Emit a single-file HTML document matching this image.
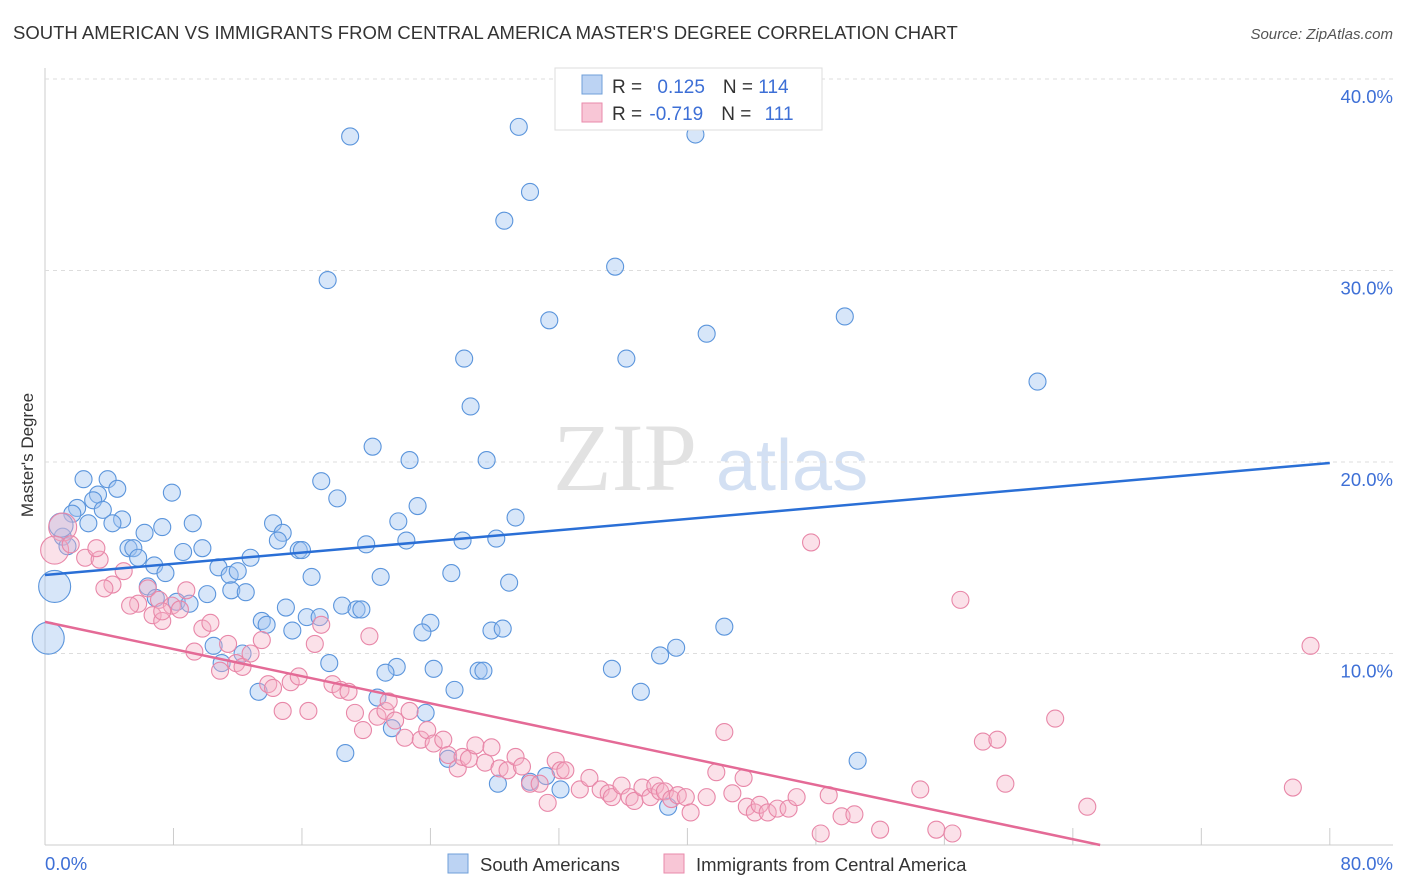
<!DOCTYPE html>
<html><head><meta charset="utf-8"><style>
body{margin:0;background:#fff;font-family:"Liberation Sans",sans-serif;}
svg{display:block}
</style></head><body>
<svg id="c" width="1406" height="892">
<text x="13" y="39" font-size="18.5" fill="#333">SOUTH AMERICAN VS IMMIGRANTS FROM CENTRAL AMERICA MASTER'S DEGREE CORRELATION CHART</text>
<text x="1393" y="39" font-size="15" fill="#555" font-style="italic" text-anchor="end">Source: ZipAtlas.com</text>
<text x="33" y="455" font-size="17" fill="#333" transform="rotate(-90 33 455)" text-anchor="middle">Master's Degree</text>
<g><text x="553" y="490" font-size="96" fill="#e2e2e2" font-family="Liberation Serif">ZIP</text><text x="716" y="490" font-size="72" fill="#d3e0f3">atlas</text></g>
<g id="grid"></g><g id="pts"></g><g id="lines"></g>
<g>
<rect x="555" y="68" width="267" height="62" fill="#fff" stroke="#ddd"/>
<rect x="582" y="75" width="20" height="19" fill="#bcd3f3" stroke="#6f9fd8"/>
<rect x="582" y="103" width="20" height="19" fill="#f8c6d6" stroke="#e98aab"/>
<text x="612" y="93" font-size="19" fill="#333">R = <tspan fill="#3d6fd6" dx="10">0.125</tspan><tspan dx="18" fill="#333">N = </tspan><tspan fill="#3d6fd6">114</tspan></text>
<text x="612" y="120" font-size="19" fill="#333">R = <tspan fill="#3d6fd6" dx="2">-0.719</tspan><tspan dx="18" fill="#333">N = </tspan><tspan fill="#3d6fd6" dx="8">111</tspan></text>
</g>
<g>
<rect x="448" y="854" width="20" height="19" fill="#bcd3f3" stroke="#6f9fd8"/>
<text x="480" y="871" font-size="18.5" fill="#333">South Americans</text>
<rect x="664" y="854" width="20" height="19" fill="#f8c6d6" stroke="#e98aab"/>
<text x="696" y="871" font-size="18.5" fill="#333">Immigrants from Central America</text>
</g>
</svg>
<script>
const blueX=[19.0,29.5,40.5,30.2,28.6,35.5,17.6,31.4,41.2,49.8,26.1,36.2,61.8,26.5,20.4,22.7,27.5,2.4,3.9,4.5,7.9,17.2,18.2,3.3,3.0,2.0,1.7,3.6,23.2,4.8,4.2,2.7,7.3,9.2,6.2,14.2,14.8,22.0,29.3,14.5,1.1,1.4,5.2,5.5,15.8,16.0,20.0,22.5,26.0,28.1,8.6,9.8,5.8,12.8,6.8,10.8,11.5,12.0,7.5,16.6,20.9,25.3,28.9,6.4,11.6,12.5,10.1,6.9,8.2,9.0,15.0,18.5,19.4,19.7,16.3,17.1,13.5,13.8,24.0,15.4,23.5,27.8,28.5,42.3,39.3,38.3,10.5,12.3,11.0,17.7,21.9,21.2,24.2,27.0,27.3,35.3,37.1,25.5,13.3,20.7,23.7,21.6,18.7,25.1,50.6,31.2,28.2,30.2,32.1,38.8,0.6,0.2,1.0];
const blueY=[37.0,37.5,37.1,34.1,32.6,30.2,29.5,27.4,26.7,27.6,25.4,25.4,24.2,22.9,20.8,20.1,20.1,19.1,19.1,18.6,18.4,19.0,18.1,18.3,18.0,17.6,17.3,17.5,17.7,17.0,16.8,16.8,16.6,16.8,16.3,16.8,16.3,16.9,17.1,15.9,16.1,15.6,15.5,15.5,15.4,15.4,15.7,15.9,15.9,16.0,15.3,15.5,15.0,15.0,14.6,14.5,14.1,14.3,14.2,14.0,14.0,14.2,13.7,13.5,13.3,13.2,13.1,12.9,12.7,12.6,12.4,12.5,12.3,12.3,11.9,11.9,11.7,11.5,11.6,11.2,11.1,11.2,11.3,11.4,10.3,9.9,10.4,10.0,9.5,9.5,9.3,9.0,9.2,9.1,9.1,9.2,8.0,8.1,8.0,7.7,6.9,6.1,4.8,4.5,4.4,3.6,3.2,3.3,2.9,2.0,13.5,10.8,16.7];
const blueR=blueX.map((v,i)=>i>=blueX.length-3?(i==blueX.length-1?12:16):8.5);
const pinkX=[1.1,0.6,1.6,2.5,3.4,3.2,4.2,3.7,4.9,5.8,6.4,7.1,6.7,7.3,7.9,8.4,8.8,7.3,5.3,9.8,10.3,9.3,10.9,11.4,11.9,12.3,12.8,13.5,13.9,14.2,14.8,15.3,15.8,16.4,16.8,17.2,17.9,18.4,18.9,19.3,19.8,20.2,20.7,21.2,21.4,21.8,22.4,22.7,23.4,23.8,24.2,24.8,25.1,25.7,26.0,26.4,26.8,27.4,27.8,28.3,28.8,29.3,29.7,30.2,30.8,31.3,31.8,32.1,32.4,33.3,33.9,34.6,35.1,35.3,35.9,36.4,36.7,37.2,37.7,38.0,38.3,38.6,39.0,39.4,39.9,40.2,41.2,41.8,42.3,42.8,43.5,43.7,44.2,44.5,45.0,45.6,46.3,46.8,47.7,48.3,48.8,49.6,50.4,52.0,54.5,55.5,56.5,57.0,58.4,59.3,59.8,62.9,64.9,77.7,78.8];
const pinkY=[16.6,15.4,15.7,15.0,14.9,15.5,13.6,13.4,14.3,12.6,13.4,12.8,12.0,11.7,12.5,12.3,13.3,12.2,12.5,11.3,11.6,10.1,9.1,10.5,9.5,9.3,10.0,10.7,8.4,8.2,7.0,8.5,8.8,7.0,10.5,11.5,8.4,8.1,8.0,6.9,6.0,10.9,6.7,7.0,7.5,6.5,5.6,7.0,5.5,6.0,5.3,5.5,4.7,4.0,4.6,4.5,5.2,4.3,5.1,4.0,3.9,4.6,4.1,3.2,3.2,2.2,4.4,3.9,3.9,2.9,3.5,2.9,2.7,2.5,3.1,2.5,2.3,3.0,2.5,3.1,2.8,2.8,2.4,2.6,2.5,1.7,2.5,3.8,5.9,2.7,3.5,2.0,1.7,2.1,1.7,1.9,1.9,2.5,15.8,0.6,2.6,1.5,1.6,0.8,2.9,0.8,0.6,12.8,5.4,5.5,3.2,6.6,2.0,3.0,10.4];
const pinkR=pinkX.map((v,i)=>i<2?14:8.5);
const yTicks=[10,20,30,40];
const blueLine=[14.1,19.95];
const pinkLine=[11.65,65.7];
const X=v=>45+v*16.06, Y=v=>845-v*19.15;
const NS="http://www.w3.org/2000/svg";
function mk(tag,attrs,parent){const e=document.createElementNS(NS,tag);for(const k in attrs)e.setAttribute(k,attrs[k]);parent.appendChild(e);return e;}
const grid=document.getElementById('grid');
let ax=mk('line',{x1:45,y1:845,x2:1393,y2:845,stroke:'#ccc'},grid);


let ay=mk('line',{x1:45,y1:68,x2:45,y2:845,stroke:'#ccc'},grid);


yTicks.forEach(t=>{
 const g=mk('line',{x1:45,y1:Y(t),x2:1393,y2:Y(t),stroke:'#ddd','stroke-dasharray':'4 4'},grid);
 
 
 const l=mk('text',{x:1393,y:Y(t)+24,'font-size':18.5,fill:'#3d6fd6','text-anchor':'end'},grid);l.textContent=t.toFixed(1)+'%';
 
 
});
for(let i=0;i<=10;i++){const t=mk('line',{x1:X(i*8),y1:828,x2:X(i*8),y2:845,stroke:'#ccc'},grid);
 
 }
let x0=mk('text',{x:45,y:870,'font-size':18.5,fill:'#3d6fd6'},grid);x0.textContent='0.0%';


let x1=mk('text',{x:1393,y:870,'font-size':18.5,fill:'#3d6fd6','text-anchor':'end'},grid);x1.textContent='80.0%';


const pts=document.getElementById('pts');
blueX.forEach((v,i)=>{const c=mk('circle',{cx:X(v),cy:Y(blueY[i]),r:blueR[i],fill:'rgba(160,195,240,0.42)',stroke:'#5b95dc','stroke-width':1.1},pts);
 
 });
pinkX.forEach((v,i)=>{const c=mk('circle',{cx:X(v),cy:Y(pinkY[i]),r:pinkR[i],fill:'rgba(245,175,198,0.38)',stroke:'#e887a8','stroke-width':1.1},pts);
 
 });
const lines=document.getElementById('lines');
const bl=mk('line',{x1:X(0),y1:Y(blueLine[0]),x2:X(80),y2:Y(blueLine[1]),stroke:'#2a6fd6','stroke-width':2.5},lines);


const pl=mk('line',{x1:X(0),y1:Y(pinkLine[0]),x2:X(pinkLine[1]),y2:Y(0),stroke:'#e46a96','stroke-width':2.5},lines);


</script>
</body></html>
